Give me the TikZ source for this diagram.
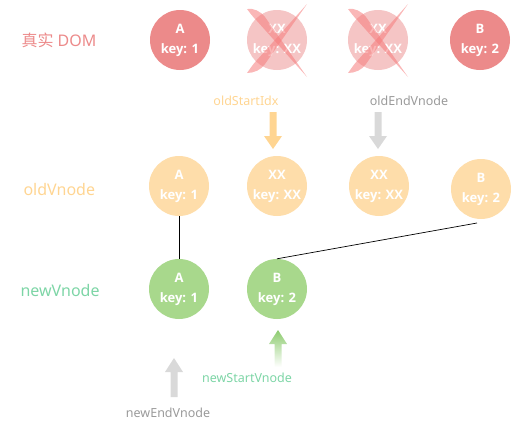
\documentclass[tikz,border=0pt]{standalone}
\usepackage{fontspec}
\setmainfont{Noto Sans}
\newfontfamily\cjk{Noto Sans CJK SC}
\newfontfamily\circfont{Open Sans}
\definecolor{domc}{HTML}{EC8A8A}
\definecolor{domfade}{HTML}{F5C5C5}
\definecolor{crossc}{HTML}{F67C7C}
\definecolor{oldc}{HTML}{FEDDAA}
\definecolor{oldlab}{HTML}{FFD592}
\definecolor{newc}{HTML}{A8D88C}
\definecolor{newlab}{HTML}{7DD5A6}
\definecolor{grayarr}{HTML}{D9D9D9}
\definecolor{graylab}{HTML}{9A9A9A}
\definecolor{greenarr}{HTML}{8CCB6E}
\begin{document}
\begin{tikzpicture}[x=1pt,y=-1pt,
  vn/.style={circle,minimum size=60pt,inner sep=0pt,text=white,font=\circfont\bfseries\fontsize{13}{20}\selectfont,align=center},
  rowlab/.style={font=\fontsize{16}{18}\selectfont,anchor=west},
  ptrlab/.style={font=\fontsize{12.5}{14}\selectfont}]
\useasboundingbox (0,0) rectangle (511,437);
% row labels
\node[rowlab,text=domc] (ldom) at (18,40) {{\cjk 真实} DOM};
\node[rowlab,text=oldlab] (lold) at (20,189) {oldVnode};
\node[rowlab,text=newlab] (lnew) at (17,290) {newVnode};
% real DOM
\node[vn,fill=domc] (d1) at (180,40) {A\\key: 1};
\node[vn,fill=domfade] (d2) at (277,40) {XX\\key: XX};
\node[vn,fill=domfade] (d3) at (378,40) {XX\\key: XX};
\node[vn,fill=domc] (d4) at (480,40) {B\\key: 2};
% crosses
\foreach \n in {d2,d3}{
  \begin{scope}[shift={(\n.center)}]
    \fill[crossc,opacity=0.55] (-30,-31) .. controls (-23,-32) and (-17,-29) .. (-12,-23) -- (30,37) -- (-20,-19) .. controls (-24,-23) and (-27,-27) .. cycle;
    \fill[crossc,opacity=0.55] (30,-36) -- (-12,24) .. controls (-16,30) and (-23,33) .. (-30,33) .. controls (-27,29) and (-24,24) .. (-20,20) -- cycle;
  \end{scope}
}
% old vnodes
\node[vn,fill=oldc] (o1) at (179,186) {A\\key: 1};
\node[vn,fill=oldc] (o2) at (277,186) {XX\\key: XX};
\node[vn,fill=oldc] (o3) at (379,186) {XX\\key: XX};
\node[vn,fill=oldc] (o4) at (481,189) {B\\key: 2};
% new vnodes
\node[vn,fill=newc] (n1) at (179,289) {A\\key: 1};
\node[vn,fill=newc] (n2) at (277,289) {B\\key: 2};
% connectors
\coordinate (o4b) at (477,223);
\draw[line width=0.7pt] (o1.south) -- (n1.north);
\draw[line width=0.7pt] (o4b) -- (n2.north);
% pointer labels
\node[ptrlab,text=oldlab] (pos) at (246,101) {oldStartIdx};
\node[ptrlab,text=graylab] (poe) at (409,101) {oldEndVnode};
\node[ptrlab,text=newlab] (pns) at (247,378) {newStartVnode};
\node[ptrlab,text=graylab] (pne) at (168,413) {newEndVnode};
% arrows
\coordinate (aos) at (273,112);
\coordinate (aoe) at (378,112);
\coordinate (ans) at (278,367);
\coordinate (ane) at (174,397);
\fill[oldlab] (aos) ++(-3.5,0) -- ++(7,0) -- ++(0,24) -- ++(5.5,0) -- ++(-9,13) -- ++(-9,-13) -- ++(5.5,0) -- cycle;
\fill[grayarr] (aoe) ++(-3.5,0) -- ++(7,0) -- ++(0,24) -- ++(5.5,0) -- ++(-9,13) -- ++(-9,-13) -- ++(5.5,0) -- cycle;
\shade[top color=greenarr,bottom color=white] (ans) ++(-3.5,0) -- ++(7,0) -- ++(0,-23) -- ++(5.5,0) -- ++(-9,-14) -- ++(-9,14) -- ++(5.5,0) -- cycle;
\fill[grayarr] (ane) ++(-3.5,0) -- ++(7,0) -- ++(0,-25) -- ++(5.5,0) -- ++(-9,-14) -- ++(-9,14) -- ++(5.5,0) -- cycle;
\end{tikzpicture}
\end{document}
